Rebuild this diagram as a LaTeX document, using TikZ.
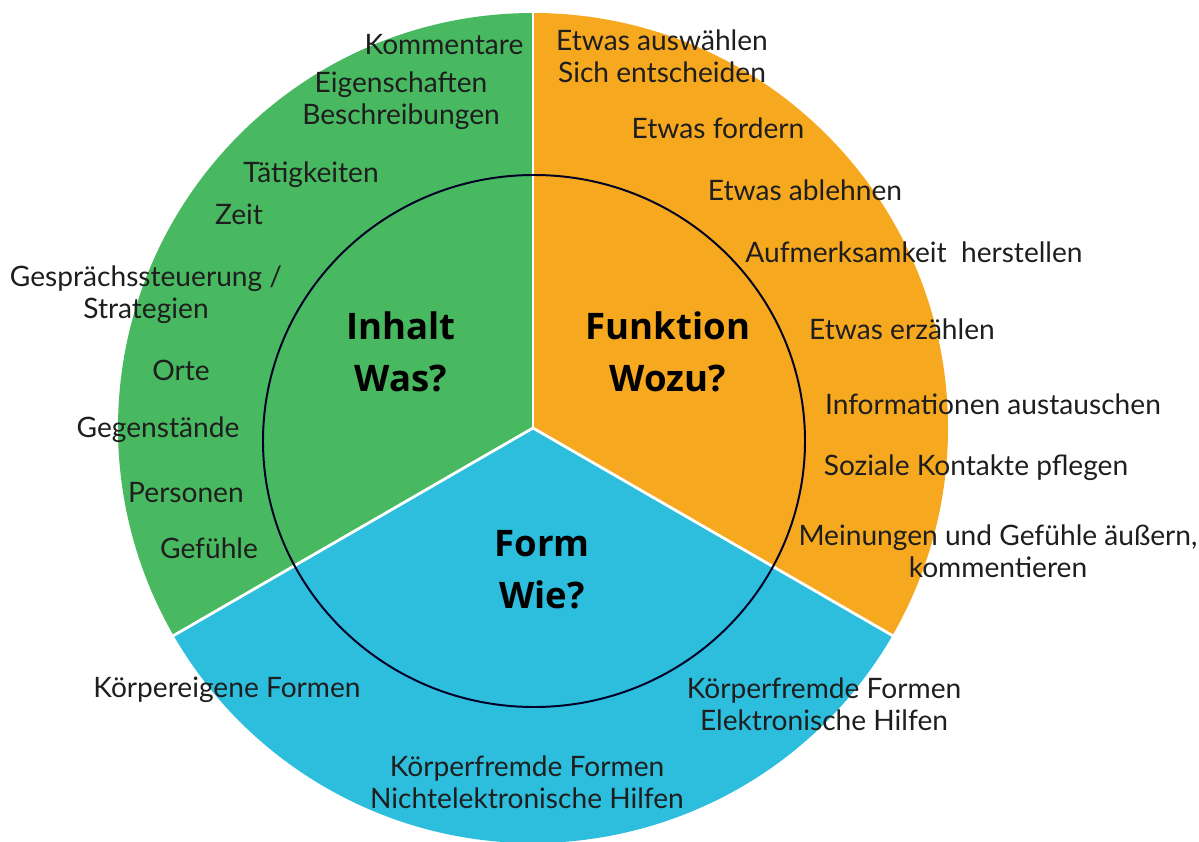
\documentclass[tikz,border=0pt]{standalone}
\usepackage{fontspec}
\setmainfont{Lato}
\newfontfamily\titelfont{Open Sans}
\usetikzlibrary{positioning}

\definecolor{inhaltgruen}{RGB}{72,185,96}
\definecolor{funktionorange}{RGB}{246,168,30}
\definecolor{formblau}{RGB}{44,190,220}
\definecolor{textgrau}{RGB}{30,30,30}

\begin{document}
\begin{tikzpicture}[
    x=0.025cm, y=-0.025cm,
    trenner/.style={draw=white, line width=2pt},
    ring/.style={draw=black!85!blue, line width=1.4pt},
    eintrag/.style={font=\fontsize{20}{23}\selectfont, text=textgrau,
                    align=center, inner sep=0pt},
    titel/.style={font=\titelfont\fontsize{26}{37}\selectfont\bfseries, text=black,
                  align=center, inner sep=0pt}
]

\useasboundingbox (0,0) rectangle (1199,842);
\coordinate (mitte) at (533,428);

% Sektoren
\fill[inhaltgruen] (mitte) -- ++(-90:415) arc[start angle=-90, end angle=-210, radius=415] -- cycle;
\fill[funktionorange] (mitte) -- ++(-90:415) arc[start angle=-90, end angle=30, radius=415] -- cycle;
\fill[formblau] (mitte) -- ++(30:415) arc[start angle=30, end angle=150, radius=415] -- cycle;

% Trennlinien
\draw[trenner] (mitte) -- ++(-90:415);
\draw[trenner] (mitte) -- ++(30:416);
\draw[trenner] (mitte) -- ++(150:416);

% Innerer Kreis
\draw[ring] (534,441) ellipse [x radius=271, y radius=266];

% Titel
\node[titel] (inhalt) at (401,352) {Inhalt\\Was?};
\node[titel] (funktion) at (668,352) {Funktion\\Wozu?};
\node[titel] (form) at (542,570) {Form\\Wie?};

% Inhalt - Was?
\node[eintrag] (kommentare) at (444,45) {Kommentare};
\node[eintrag] (eigenschaften) at (401,101) {Eigenschaften\\Beschreibungen};
\node[eintrag] (taetigkeiten) at (311,175) {Tätigkeiten};
\node[eintrag] (zeit) at (239,214) {Zeit};
\node[eintrag] (steuerung) at (146,295) {Gesprächssteuerung /\\Strategien};
\node[eintrag] (orte) at (181,370) {Orte};
\node[eintrag] (gegenstaende) at (158,430) {Gegenstände};
\node[eintrag] (personen) at (186,493) {Personen};
\node[eintrag] (gefuehle) at (209,548) {Gefühle};

% Funktion - Wozu?
\node[eintrag] (auswaehlen) at (662,56) {Etwas auswählen\\Sich entscheiden};
\node[eintrag] (fordern) at (718,128) {Etwas fordern};
\node[eintrag] (ablehnen) at (805,190) {Etwas ablehnen};
\node[eintrag] (aufmerksamkeit) at (914,252) {Aufmerksamkeit\ \ herstellen};
\node[eintrag] (erzaehlen) at (902,329) {Etwas erzählen};
\node[eintrag] (informationen) at (993,404) {Informationen austauschen};
\node[eintrag] (kontakte) at (976,468) {Soziale Kontakte pflegen};
\node[eintrag] (meinungen) at (998,551) {Meinungen und Gefühle äußern,\\kommentieren};

% Form - Wie?
\node[eintrag] (koerpereigen) at (227,690) {Körpereigene Formen};
\node[eintrag] (elektronisch) at (824,704) {Körperfremde Formen\\Elektronische Hilfen};
\node[eintrag] (nichtelektronisch) at (527,782) {Körperfremde Formen\\Nichtelektronische Hilfen};

\end{tikzpicture}
\end{document}
